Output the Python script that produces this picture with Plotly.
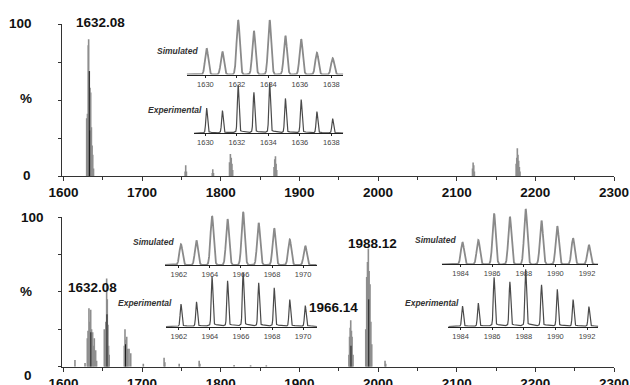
import numpy as np
import plotly.graph_objects as go

OFF = 0
W, H = 630, 385

# ---------------- data ----------------
# main spectrum, top panel (m/z, relative intensity %)
top_mz = [1629.6, 1630.6, 1631.6, 1632.1, 1632.9, 1633.8, 1634.7, 1635.6, 1636.5, 1637.3, 1638.3,
          1754.8, 1755.5, 1756.4, 1789.3, 1789.9, 1790.8,
          1811.2, 1812.3, 1813.4, 1814.3, 1815.2,
          1867.8, 1868.7, 1869.6, 1870.4, 1871.2,
          2120.1, 2120.9, 2121.7, 2122.5,
          2175.6, 2176.4, 2177.1, 2177.9, 2178.8, 2179.7, 2180.5]
top_int = [38, 41, 86, 90, 69, 58, 55, 32, 20, 14, 5,
           3, 7, 3, 2, 4.5, 2,
           9, 14.5, 12, 8, 4,
           6, 11, 13, 8, 4,
           5, 8.8, 7, 3,
           8, 12, 18.2, 14, 10, 6, 3]
top_dark_mz = [1632.9, 1633.4]
top_dark_int = [69, 30]

# main spectrum, bottom panel
bot_mz = [1614.7, 1627.5,
          1630.4, 1631.3, 1632.5, 1633.6, 1634.7, 1635.8, 1637.2, 1638.3, 1639.3, 1641.0, 1642.2,
          1652.0, 1652.9, 1653.9, 1655.0, 1655.8, 1656.6, 1657.4, 1658.2,
          1677.4, 1678.3, 1679.3, 1680.5, 1681.6, 1683.4, 1685.6,
          1701.6, 1728.0, 1729.0, 1747.2, 1772.6, 1773.5, 1817.0, 1838.0, 1858.0,
          1963.0, 1963.8, 1964.6, 1965.3, 1966.2, 1967.0, 1968.2,
          1984.4, 1985.6, 1986.6, 1987.7, 1988.7, 1989.8, 1990.9, 1992.0,
          2008.9, 2009.8]
bot_int = [4.5, 2.5,
           19, 24, 39, 30, 38, 25, 23, 14, 19, 11, 4,
           25, 19, 30, 59, 45, 28, 14, 8,
           14, 25, 18, 20, 12, 12, 9,
           2, 6, 3, 2, 4, 2, 1.2, 1, 1,
           8, 20, 26, 31, 24, 20, 8,
           25, 60, 70, 79, 64, 55, 30, 15,
           4, 2]
bot_dark_mz = [1634.9, 1655.4, 1679.0, 1965.6, 1988.2]
bot_dark_int = [23, 35, 15, 14, 45]

# insets: isotope patterns (m/z, relative intensity %)
ins1_mz = [1630.08, 1631.08, 1632.08, 1633.08, 1634.08, 1635.08, 1636.08, 1637.08, 1638.08]
ins1_sim = [48, 42, 100, 80, 100, 71, 65, 40, 30]
ins1_exp = [50, 45, 96, 81, 100, 69, 67, 43, 29]
ins1_ticks = [1630, 1632, 1634, 1636, 1638]

ins2_mz = [1962.14, 1963.14, 1964.14, 1965.14, 1966.14, 1967.14, 1968.14, 1969.14, 1970.14]
ins2_sim = [39, 46, 92, 86, 100, 79, 69, 48, 36]
ins2_exp = [42, 46, 93, 85, 100, 81, 72, 50, 39]
ins2_ticks = [1962, 1964, 1966, 1968, 1970]

ins3_mz = [1984.12, 1985.12, 1986.12, 1987.12, 1988.12, 1989.12, 1990.12, 1991.12, 1992.12]
ins3_sim = [40, 44, 92, 86, 100, 79, 69, 47, 35]
ins3_exp = [36, 41, 86, 78, 100, 73, 65, 47, 35]
ins3_ticks = [1984, 1986, 1988, 1990, 1992]

main_ticks = [1600, 1700, 1800, 1900, 2000, 2100, 2200, 2300]
minor_ticks = [1650, 1750, 1850, 1950, 2050, 2150, 2250]

# ---------------- helpers ----------------
def fx(px):
    return (px - OFF) / W

def fy(py):
    return 1 - (py - OFF) / H

def sticks(mz, inten):
    xs, ys = [], []
    for m, v in zip(mz, inten):
        xs += [m, m, None]
        ys += [0, v, None]
    return xs, ys

def profile(mz, inten, lo, hi, sigma, tail=0.0):
    x = np.linspace(lo, hi, 2500)
    y = np.zeros_like(x)
    for m, v in zip(mz, inten):
        y += v * np.exp(-0.5 * ((x - m) / sigma) ** 2)
        if tail:
            y += tail * v * np.exp(-0.5 * ((x - m - 0.12) / 0.28) ** 2)
    return x, y

FONT = "Liberation Sans, Arial, sans-serif"
fig = go.Figure()

# main spectra
for xa, ya, mz, it, dmz, dit in [("x", "y", top_mz, top_int, top_dark_mz, top_dark_int),
                                 ("x2", "y2", bot_mz, bot_int, bot_dark_mz, bot_dark_int)]:
    sx, sy = sticks(mz, it)
    fig.add_trace(go.Scatter(x=sx, y=sy, mode="lines", xaxis=xa, yaxis=ya,
                             line=dict(color="#8e8e8e", width=1.6), hoverinfo="skip", showlegend=False))
    dx, dy = sticks(dmz, dit)
    fig.add_trace(go.Scatter(x=dx, y=dy, mode="lines", xaxis=xa, yaxis=ya,
                             line=dict(color="#1e1e1e", width=1), hoverinfo="skip", showlegend=False))

# inset geometry (pixel based)
insets = [
    ("3", ins1_mz, ins1_sim, ins1_ticks, 186.7, 343.3, 15.75, 1630, 205.4, 74.5, 20.0, "sim"),
    ("4", ins1_mz, ins1_exp, ins1_ticks, 194.0, 343.3, 15.75, 1630, 205.4, 133.3, 85.0, "exp"),
    ("5", ins2_mz, ins2_sim, ins2_ticks, 165.0, 316.7, 15.54, 1962, 178.8, 265.0, 211.7, "sim"),
    ("6", ins2_mz, ins2_exp, ins2_ticks, 166.0, 317.0, 15.54, 1962, 178.8, 326.7, 275.0, "exp"),
    ("7", ins3_mz, ins3_sim, ins3_ticks, 441.7, 598.3, 15.8, 1988, 523.8, 264.3, 209.0, "sim"),
    ("8", ins3_mz, ins3_exp, ins3_ticks, 448.3, 598.3, 15.8, 1988, 523.8, 326.7, 271.7, "exp"),
]

layout_axes = {}
for (n, mz, vals, tks, pl, pr, unit, refv, refpx, base, top100, kind) in insets:
    lo = refv - (refpx - pl) / unit
    hi = refv + (pr - refpx) / unit
    dom_top = base - (base - top100) * 1.05
    if kind == "sim":
        x, y = profile(mz, vals, lo, hi, 0.1)
        fig.add_trace(go.Scatter(x=x, y=y, mode="lines", xaxis="x" + n, yaxis="y" + n,
                                 line=dict(color="#8a8a8a", width=1.8), hoverinfo="skip", showlegend=False))
    else:
        x, y = profile(mz, vals, lo, hi, 0.05, tail=0.05)
        fig.add_trace(go.Scatter(x=x, y=y, mode="lines", xaxis="x" + n, yaxis="y" + n,
                                 line=dict(color="#4a4a4a", width=1.2), hoverinfo="skip", showlegend=False))
    layout_axes["xaxis" + n] = dict(domain=[fx(pl), fx(pr)], range=[lo, hi], anchor="y" + n,
                                   showline=True, linecolor="#222", linewidth=1, ticks="outside",
                                   ticklen=2, tickcolor="#222", tickvals=tks, ticktext=[str(t) for t in tks],
                                   tickfont=dict(family=FONT, size=7.5, color="#444"),
                                   showgrid=False, zeroline=False, fixedrange=True, automargin=False)
    layout_axes["yaxis" + n] = dict(domain=[fy(base), fy(dom_top)], range=[0, 105], anchor="x" + n,
                                   visible=False, fixedrange=True, automargin=False)

main_x = dict(range=[1597.84, 2300], domain=[fx(61.7), fx(614)], showline=True, linecolor="#333",
              linewidth=1.2, ticks="outside", ticklen=4, tickcolor="#333", tickvals=main_ticks,
              ticktext=[str(t) for t in main_ticks],
              tickfont=dict(family=FONT, size=13.5, color="#111", weight="bold"),
              minor=dict(tickvals=minor_ticks, ticks="outside",
                         ticklen=3, tickcolor="#333", showgrid=False),
              showgrid=False, zeroline=False, automargin=False)
main_y = dict(range=[0, 100], showline=True, linecolor="#333", linewidth=1.2, ticks="outside",
              ticklen=3, tickcolor="#333", tickvals=[0, 25, 50, 75, 100], showticklabels=False,
              showgrid=False, zeroline=False, automargin=False)

fig.update_layout(
    template="none",
    width=W, height=H, margin=dict(l=0, r=0, t=0, b=0, pad=0, autoexpand=False),
    paper_bgcolor="white", plot_bgcolor="rgba(0,0,0,0)", showlegend=False,
    xaxis=dict(main_x, anchor="y"),
    yaxis=dict(main_y, domain=[fy(176), fy(24)], anchor="x"),
    xaxis2=dict(main_x, anchor="y2"),
    yaxis2=dict(main_y, domain=[fy(366.7), fy(217)], anchor="x2"),
    **layout_axes,
)

def ann(text, px, py, size=13.5, bold=True, italic=False, xanchor="center", color="#111"):
    fig.add_annotation(text=text, x=fx(px), y=fy(py), xref="paper", yref="paper",
                       xanchor=xanchor, yanchor="middle", showarrow=False,
                       font=dict(family=FONT, size=size, color=color,
                                 weight="bold" if bold else "normal",
                                 style="italic" if italic else "normal"))

# peak labels
ann("1632.08", 100, 22.5)
ann("1632.08", 92, 287)
ann("1966.14", 333.5, 307)
ann("1988.12", 372.5, 243)

# inset titles
for t, px, py in [("Simulated", 200, 51), ("Experimental", 204, 110),
                  ("Simulated", 176, 241.5), ("Experimental", 174, 303),
                  ("Simulated", 458, 239.5), ("Experimental", 461, 303.3)]:
    ann(t, px, py, size=8.5, bold=True, italic=True, xanchor="right", color="#333")

# y-axis labels
for t, px, py in [("100", 34, 23), ("%", 34, 99), ("0", 33, 175),
                  ("100", 46, 217), ("%", 34, 291), ("0", 34, 375)]:
    ann(t, px, py, xanchor="right")

fig.write_html(
    "out.html",
    config={"displayModeBar": False, "staticPlot": True},
    post_script="document.body.style.margin='0';document.documentElement.style.overflow='hidden';",
)
